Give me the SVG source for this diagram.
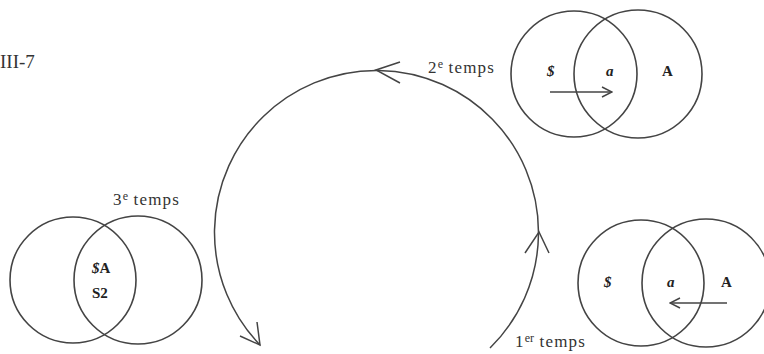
<svg xmlns="http://www.w3.org/2000/svg" width="764" height="354" viewBox="0 0 764 354">
<style>
.c{fill:none;stroke:#444;stroke-width:1.6}
.l{fill:none;stroke:#444;stroke-width:1.5}
.t{font-family:"Liberation Serif",serif;font-size:17px;fill:#333;letter-spacing:1.2px}
.sup{font-size:12px;letter-spacing:0}
.s{font-family:"Liberation Serif",serif;font-size:15px;fill:#222;font-weight:bold}
.i{font-style:italic}
</style>
<defs>
<marker id="ah" viewBox="0 0 12 12" refX="11" refY="6" markerWidth="12" markerHeight="12" markerUnits="userSpaceOnUse" orient="auto">
<path d="M1,1 L11,6 L1,11" fill="none" stroke="#444" stroke-width="1.5"/>
</marker>
</defs>
<text x="0" y="68" class="t" style="font-size:19px;letter-spacing:0">III-7</text>
<g id="connectors">
<path class="l" d="M490,348 A162,162 0 1,0 260,345"/>
<path class="l" d="M400,62 L376,70 L400,83"/>
<path class="l" d="M525,253 L539,232 L549,253"/>
<path class="l" d="M240,336 L260,345 L257,322"/>
</g>
<g id="temps2">
<circle class="c" cx="574" cy="74" r="63"/>
<circle class="c" cx="638" cy="74" r="64"/>
<text class="s i" x="547" y="76">$</text>
<text class="s i" x="606" y="76">a</text>
<text class="s" x="662" y="76">A</text>
<line class="l" x1="550" y1="92" x2="612" y2="92" marker-end="url(#ah)"/>
<text class="t" x="428" y="73">2<tspan class="sup" dy="-5">e</tspan><tspan dy="5"> temps</tspan></text>
</g>
<g id="temps3">
<circle class="c" cx="73" cy="280" r="63"/>
<circle class="c" cx="138" cy="280" r="64"/>
<text class="s" x="92" y="273"><tspan class="i">$</tspan>A</text>
<text class="s" x="92" y="298">S2</text>
<text class="t" x="113" y="205">3<tspan class="sup" dy="-5">e</tspan><tspan dy="5"> temps</tspan></text>
</g>
<g id="temps1">
<circle class="c" cx="641" cy="283" r="63"/>
<circle class="c" cx="706" cy="283" r="64"/>
<text class="s i" x="604" y="287">$</text>
<text class="s i" x="667" y="287">a</text>
<text class="s" x="721" y="287">A</text>
<line class="l" x1="727" y1="303" x2="670" y2="303" marker-end="url(#ah)"/>
<text class="t" x="515" y="347">1<tspan class="sup" dy="-5">er</tspan><tspan dy="5"> temps</tspan></text>
</g>
</svg>
